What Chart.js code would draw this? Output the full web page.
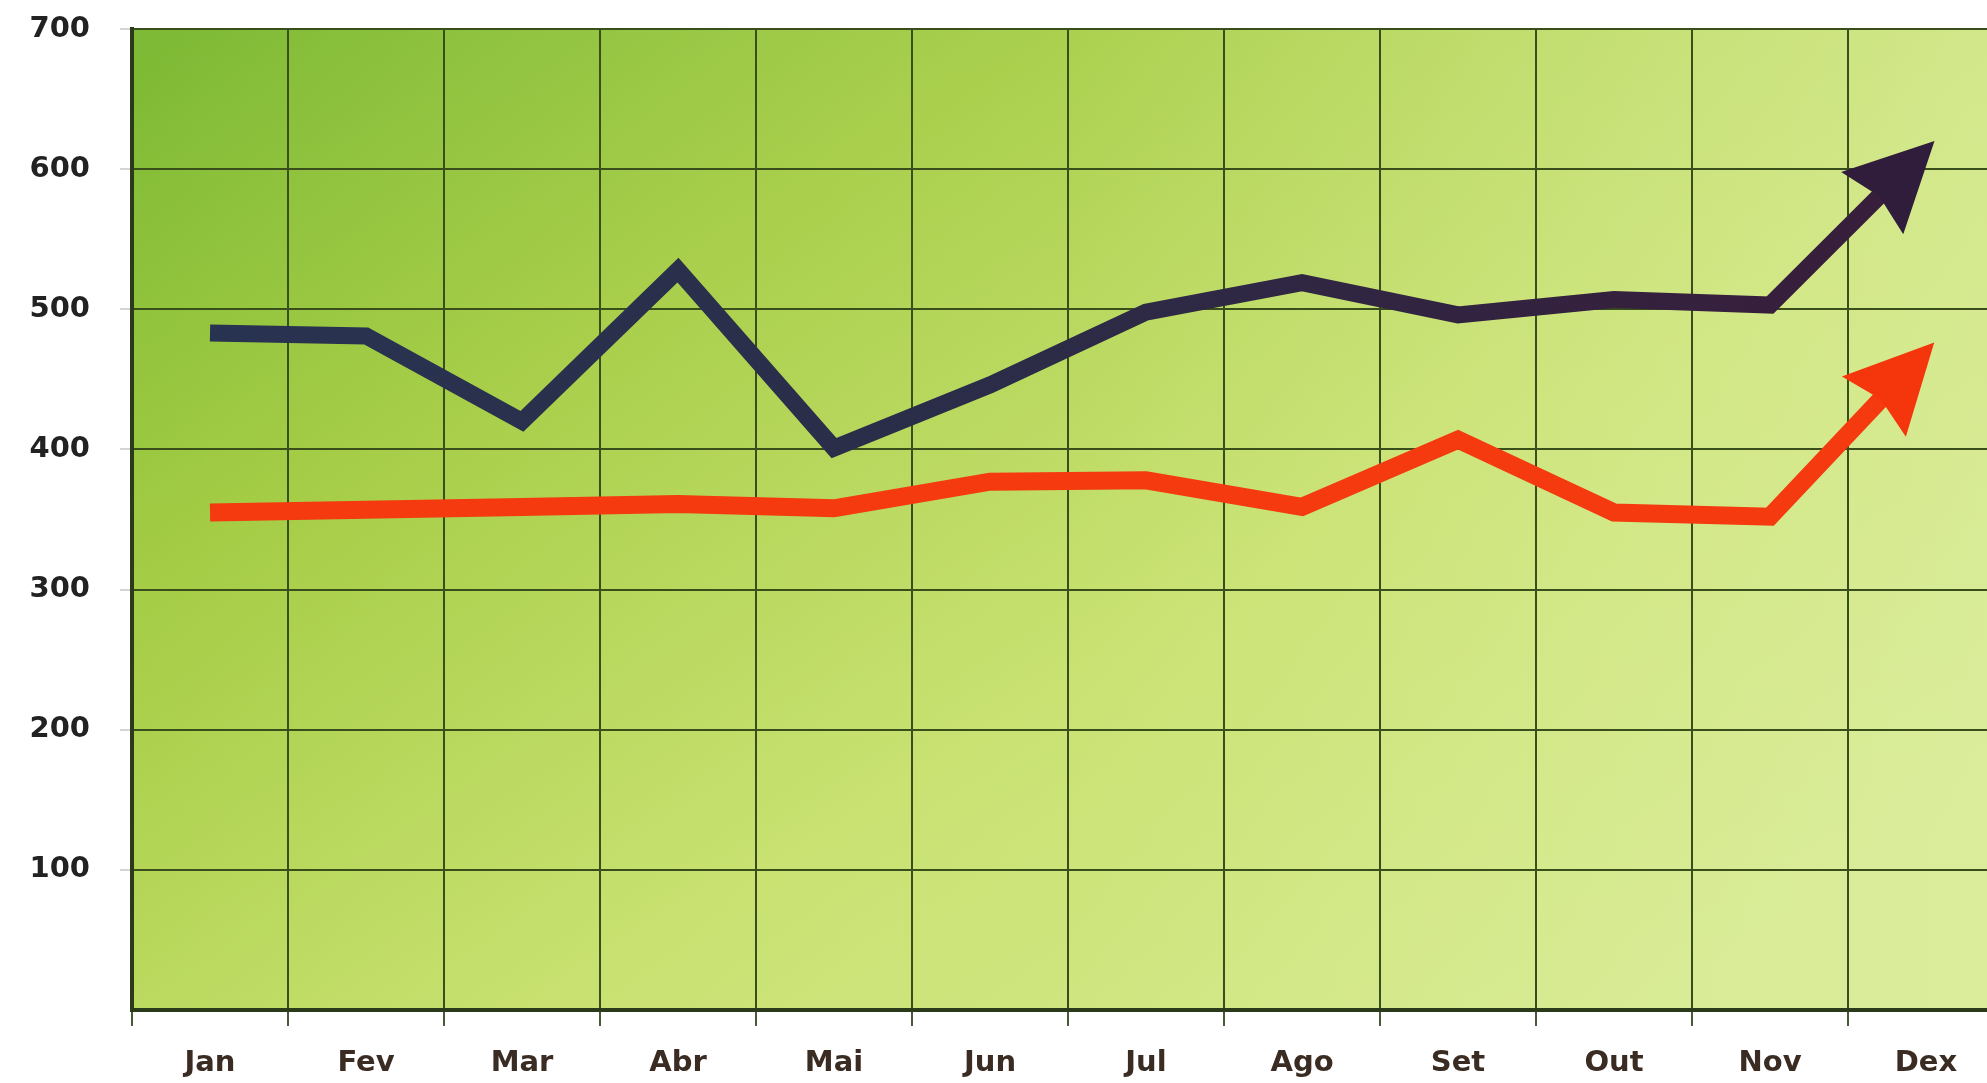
<!DOCTYPE html>
<html>
<head>
<meta charset="utf-8">
<script src="https://cdn.jsdelivr.net/npm/chart.js@4/dist/chart.umd.min.js"></script>
<style>
  html, body { margin: 0; padding: 0; background: #ffffff; overflow: hidden; }
  #wrap { position: absolute; left: 0; top: 0; width: 2010px; height: 1083px; }
</style>
</head>
<body>
<div id="wrap"><canvas id="c"></canvas></div>
<script>
// ---- data ----
const months = ['Jan', 'Fev', 'Mar', 'Abr', 'Mai', 'Jun', 'Jul', 'Ago', 'Set', 'Out', 'Nov', 'Dex'];
const darkSeries = [483, 481, 420, 528, 401, 446, 498, 519, 496, 507, 503, 614];
const redSeries  = [355, 357, 359, 361, 358, 377, 378, 359, 407, 355, 352, 470];
const yTicks = [100, 200, 300, 400, 500, 600, 700];

const ARROW_LEN = 88, ARROW_HALF = 44, ARROW_NOTCH = 10, ARROW_EXT = 12;

function arrowGeom(meta) {
  const pts = meta.data;
  const p = pts[pts.length - 1], q = pts[pts.length - 2];
  const a = Math.atan2(p.y - q.y, p.x - q.x);
  return { x: p.x + Math.cos(a) * ARROW_EXT, y: p.y + Math.sin(a) * ARROW_EXT, a };
}

const bgPlugin = {
  id: 'bg',
  beforeDraw(chart) {
    const { ctx, chartArea: ca } = chart;
    if (!ca) return;
    const g = ctx.createLinearGradient(ca.left, ca.top, ca.left + 800, ca.bottom + 400);
    g.addColorStop(0, '#7cb934');
    g.addColorStop(0.3, '#a4cc44');
    g.addColorStop(0.65, '#c6e06c');
    g.addColorStop(1, '#d3e88a');
    ctx.save();
    ctx.fillStyle = g;
    ctx.fillRect(ca.left, ca.top, ca.right - ca.left, ca.bottom - ca.top);
    const g2 = ctx.createLinearGradient(ca.left, 0, ca.right, 0);
    g2.addColorStop(0, 'rgba(230,242,180,0)');
    g2.addColorStop(0.5, 'rgba(225,240,160,0.12)');
    g2.addColorStop(1, 'rgba(225,240,170,0.55)');
    ctx.fillStyle = g2;
    ctx.fillRect(ca.left, ca.top, ca.right - ca.left, ca.bottom - ca.top);
    ctx.restore();
  }
};

const arrowPlugin = {
  id: 'arrows',
  beforeDatasetDraw(chart, args) {
    const meta = chart.getDatasetMeta(args.index);
    if (!meta.data || meta.data.length < 2) return;
    const { x, y, a } = arrowGeom(meta);
    const ctx = chart.ctx;
    ctx.save();
    ctx.beginPath();
    ctx.rect(0, 0, chart.width, chart.height);
    ctx.translate(x, y);
    ctx.rotate(a);
    ctx.moveTo(-ARROW_LEN + ARROW_NOTCH + 2, -30);
    ctx.lineTo(20, -30);
    ctx.lineTo(20, 30);
    ctx.lineTo(-ARROW_LEN + ARROW_NOTCH + 2, 30);
    ctx.closePath();
    ctx.setTransform(1, 0, 0, 1, 0, 0);
    ctx.clip('evenodd');
  },
  afterDatasetDraw(chart, args) {
    const meta = chart.getDatasetMeta(args.index);
    if (!meta.data || meta.data.length < 2) return;
    const ctx = chart.ctx;
    ctx.restore();
    const { x, y, a } = arrowGeom(meta);
    const ds = chart.data.datasets[args.index];
    ctx.save();
    ctx.translate(x, y);
    ctx.rotate(a);
    ctx.beginPath();
    ctx.moveTo(0, 0);
    ctx.lineTo(-ARROW_LEN, -ARROW_HALF);
    ctx.lineTo(-ARROW_LEN + ARROW_NOTCH, 0);
    ctx.lineTo(-ARROW_LEN, ARROW_HALF);
    ctx.closePath();
    ctx.fillStyle = ds.arrowColor;
    ctx.fill();
    ctx.restore();
  }
};

function darkStroke(context) {
  const chart = context.chart;
  const ca = chart.chartArea;
  if (!ca) return '#2c3350';
  const g = chart.ctx.createLinearGradient(ca.left, 0, ca.right, 0);
  g.addColorStop(0, '#283452');
  g.addColorStop(0.45, '#2b2d48');
  g.addColorStop(0.75, '#33223f');
  g.addColorStop(1, '#3a1d3a');
  return g;
}

const tickFont = { family: "'DejaVu Sans', sans-serif", size: 29, weight: 'bold' };

new Chart(document.getElementById('c'), {
  type: 'line',
  data: {
    labels: months,
    datasets: [
      {
        data: darkSeries,
        borderColor: darkStroke,
        arrowColor: '#301d3c',
        borderWidth: 17,
        tension: 0,
        pointRadius: 0,
        borderJoinStyle: 'miter',
        borderCapStyle: 'butt',
        fill: false
      },
      {
        data: redSeries,
        borderColor: '#f43a0e',
        arrowColor: '#f5360c',
        borderWidth: 18,
        tension: 0,
        pointRadius: 0,
        borderJoinStyle: 'miter',
        borderCapStyle: 'butt',
        fill: false
      }
    ]
  },
  options: {
    responsive: true,
    maintainAspectRatio: false,
    animation: false,
    events: [],
    layout: { padding: { top: 29, right: 6, left: 0, bottom: 0 } },
    plugins: { legend: { display: false }, tooltip: { enabled: false }, title: { display: false } },
    scales: {
      x: {
        offset: true,
        grid: {
          offset: true,
          color: '#3a4e1c',
          lineWidth: 2,
          drawTicks: true,
          tickLength: 16,
          tickColor: '#4a5a38'
        },
        border: { display: true, color: '#2c3a1c', width: 4 },
        ticks: {
          color: '#3a2c22',
          font: tickFont,
          padding: 20,
          maxRotation: 0,
          autoSkip: false
        },
        afterFit(s) { s.height = 73; s.paddingLeft = 0; s.paddingRight = 0; }
      },
      y: {
        min: 0,
        max: 700,
        afterBuildTicks(s) { s.ticks = yTicks.map(v => ({ value: v })); },
        grid: {
          color: '#3a4e1c',
          lineWidth: 2,
          drawTicks: true,
          tickLength: 12,
          tickColor: 'rgba(80,90,70,0.25)'
        },
        border: { display: true, color: '#2c3a1c', width: 4 },
        ticks: {
          color: '#222222',
          font: tickFont,
          padding: 30
        },
        afterFit(s) { s.width = 132; s.paddingTop = 0; s.paddingBottom = 0; }
      }
    }
  },
  plugins: [bgPlugin, arrowPlugin]
});
</script>
</body>
</html>
